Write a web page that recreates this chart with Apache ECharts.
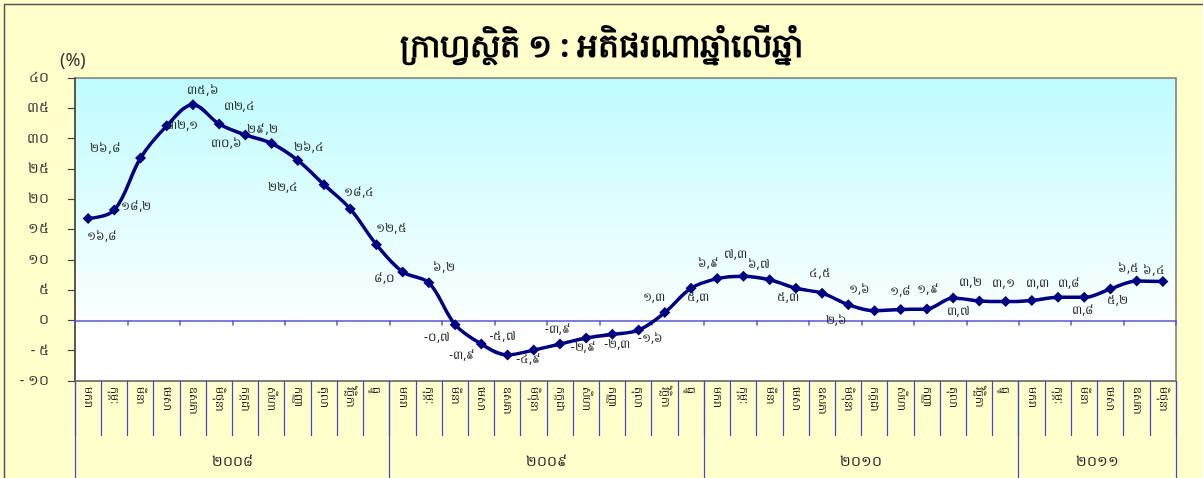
<!DOCTYPE html>
<html>
<head>
<meta charset="utf-8">
<script src="https://cdn.jsdelivr.net/npm/echarts@6/dist/echarts.min.js"></script>
<style>
  html, body { margin: 0; padding: 0; background: #ffffcc; }
  #chart { width: 1203px; height: 478px; }
</style>
</head>
<body>
<div id="chart"></div>
<script>
const months = ['មករា', 'កុម្ភៈ', 'មីនា', 'មេសា', 'ឧសភា', 'មិថុនា', 'កក្កដា', 'សីហា', 'កញ្ញា', 'តុលា', 'វិច្ឆិកា', 'ធ្នូ']
const years = ['២០០៨', '២០០៩', '២០១០', '២០១១']
const monthsPerYear = [12, 12, 12, 6]
const yTicks = [-10, -5, 0, 5, 10, 15, 20, 25, 30, 35, 40]

const inflation2008 = [16.8, 18.2, 26.8, 32.1, 35.6, 32.4, 30.6, 29.2, 26.4, 22.4, 18.4, 12.5]
const inflation2009 = [8.0, 6.2, -0.7, -3.9, -5.7, -4.9, -3.9, -2.9, -2.3, -1.6, 1.3, 5.3]
const inflation2010 = [6.9, 7.3, 6.7, 5.3, 4.5, 2.6, 1.6, 1.8, 1.9, 3.7, 3.2, 3.1]
const inflation2011 = [3.3, 3.8, 3.8, 5.2, 6.5, 6.4]

// label offsets from each marker (style only)
const labelOffsets = [
  [14, 18], [22, -4], [-35, -9], [16, 0], [10, -14], [20, -17], [-19, 9], [-9, -14], [11, -13], [-41, 3], [9, -16], [15, -16],
  [-18, 7], [15, -15], [-18, 13], [-19, 12], [-5, -18], [-5, 9], [-2, -14], [-3, 10], [5, 10], [12, 8], [-11, -15], [7, 9],
  [-9, -15], [-8, -22], [-11, -15], [-8, 9], [-2, -20], [-12, 16], [-15, -21], [0, -18], [1, -19], [5, 14], [-9, -18], [-2, -18],
  [6, -17], [11, -14], [-1, 13], [7, 12], [-8, -12], [-9, -11],
]

const khDigits = '០១២៣៤៥៦៧៨៩'
function toKhmer(str) {
  return String(str).replace(/[0-9]/g, (d) => khDigits[+d])
}
function fmtValue(v) {
  return toKhmer(v.toFixed(1).replace('.', ','))
}

const values = [...inflation2008, ...inflation2009, ...inflation2010, ...inflation2011]
const categories = []
monthsPerYear.forEach((n) => {
  for (let i = 0; i < n; i++) categories.push(months[i])
})

// year boundaries and centres on a 0..42 value scale matching the category bands
const yearEdges = [0]
monthsPerYear.forEach((n) => yearEdges.push(yearEdges[yearEdges.length - 1] + n))
const yearCentres = monthsPerYear.map((n, i) => yearEdges[i] + n / 2)

const seriesData = values.map((v, i) => ({
  value: v,
  label: { offset: labelOffsets[i] },
}))

const chartInstance = echarts.init(document.getElementById('chart'))
const fontFamily = '"Noto Sans", "DejaVu Sans", sans-serif'

const initOption = {
  backgroundColor: '#ffffcc',
  animation: false,
  textStyle: { fontFamily: fontFamily },
  title: {
    text: '{a|ក្រាហ្វស្ថិតិ ១ : }{b|អតិផរណាឆ្នាំលើឆ្នាំ}',
    left: 'center',
    top: 26,
    textStyle: {
      rich: {
        a: { fontSize: 32, color: '#000', fontFamily: fontFamily },
        b: { fontSize: 33, fontWeight: 'bold', color: '#000', fontFamily: fontFamily },
      },
    },
  },
  graphic: [
    {
      type: 'rect',
      left: 2,
      top: 2,
      shape: { width: 1200, height: 476 },
      style: { fill: 'none', stroke: '#555', lineWidth: 1.5 },
      silent: true,
    },
    {
      type: 'text',
      left: 60,
      top: 52,
      style: { text: '(%)', fontSize: 18, fill: '#333', fontFamily: fontFamily },
    },
  ],
  grid: {
    left: 75,
    right: 27,
    top: 78,
    bottom: 97,
    show: true,
    borderColor: '#777',
    borderWidth: 1.5,
    backgroundColor: new echarts.graphic.LinearGradient(0, 0, 0, 1, [
      { offset: 0, color: '#bffcff' },
      { offset: 0.85, color: '#ffffff' },
      { offset: 1, color: '#ffffff' },
    ]),
  },
  xAxis: [
    {
      type: 'category',
      data: categories,
      axisLine: { onZero: true, lineStyle: { color: '#5555cc', width: 1.5 } },
      axisTick: { show: true, length: 5, lineStyle: { color: '#5555cc', width: 1.5 } },
      axisLabel: { show: false },
      splitLine: { show: false },
      z: 3,
    },
    {
      type: 'category',
      data: categories,
      position: 'bottom',
      axisLine: { onZero: false, lineStyle: { color: '#777', width: 1.5 } },
      axisTick: { show: true, length: 55, lineStyle: { color: '#4444cc', width: 1.2 } },
      axisLabel: {
        rotate: -90,
        margin: 6,
        fontSize: 11,
        color: '#222',
        interval: 0,
      },
    },
    {
      type: 'value',
      min: 0,
      max: yearEdges[yearEdges.length - 1],
      position: 'bottom',
      axisLine: { show: false, onZero: false },
      axisTick: {
        show: true,
        length: 97,
        customValues: yearEdges,
        lineStyle: { color: '#4444cc', width: 1.2 },
      },
      axisLabel: {
        show: true,
        margin: 74,
        fontSize: 14,
        color: '#222',
        customValues: yearCentres,
        formatter: (v) => years[yearCentres.indexOf(v)] || '',
      },
      splitLine: { show: false },
    },
  ],
  yAxis: {
    type: 'value',
    min: yTicks[0],
    max: yTicks[yTicks.length - 1],
    interval: 5,
    axisLine: { show: true, lineStyle: { color: '#444', width: 1.5 } },
    axisTick: { show: true, length: 7, lineStyle: { color: '#444', width: 1.2 } },
    axisLabel: {
      fontSize: 14,
      color: '#333',
      margin: 26,
      formatter: (v) => toKhmer(v).replace('-', '- '),
    },
    splitLine: { show: false },
  },
  series: [
    {
      type: 'line',
      data: seriesData,
      xAxisIndex: 0,
      smooth: 0.35,
      symbol: 'diamond',
      symbolSize: 11,
      lineStyle: { color: '#000080', width: 3.5 },
      itemStyle: { color: '#000080' },
      label: {
        show: true,
        position: 'inside',
        fontSize: 12,
        color: '#222',
        formatter: (p) => fmtValue(p.value),
      },
      z: 5,
    },
  ],
}

chartInstance.setOption(initOption)
</script>
</body>
</html>
